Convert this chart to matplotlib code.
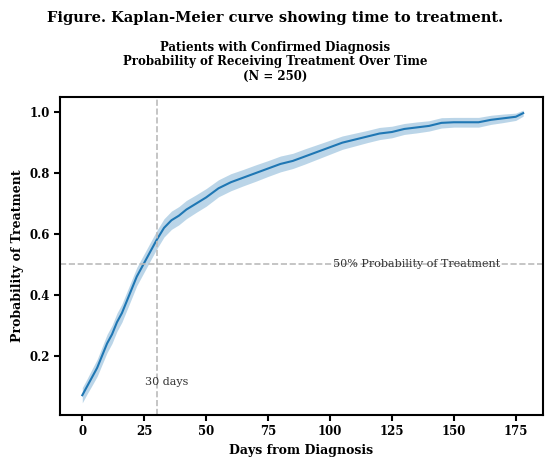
import numpy as np
import matplotlib
matplotlib.use('Agg')
import matplotlib.pyplot as plt

# Data (Kaplan-Meier cumulative probability of treatment)
days = [0, 2, 4, 6, 8, 10, 12, 14, 16, 18, 20, 22, 24, 26, 28, 30, 33, 36, 39, 42,
        46, 50, 55, 60, 65, 70, 75, 80, 85, 90, 95, 100, 105, 110, 115, 120, 125,
        130, 135, 140, 145, 150, 155, 160, 165, 170, 175, 178]
prob = [0.07, 0.10, 0.13, 0.16, 0.20, 0.24, 0.27, 0.31, 0.34, 0.38, 0.42, 0.46,
        0.49, 0.52, 0.55, 0.58, 0.62, 0.645, 0.66, 0.68, 0.70, 0.72, 0.75, 0.77,
        0.785, 0.80, 0.815, 0.83, 0.84, 0.855, 0.87, 0.885, 0.90, 0.91, 0.92,
        0.93, 0.935, 0.945, 0.95, 0.955, 0.965, 0.967, 0.967, 0.967, 0.975,
        0.98, 0.985, 0.997]
ci_half = [0.025, 0.025, 0.027, 0.028, 0.029, 0.03, 0.03, 0.03, 0.03, 0.03, 0.03,
           0.03, 0.03, 0.03, 0.03, 0.03, 0.03, 0.03, 0.03, 0.03, 0.029, 0.029,
           0.028, 0.028, 0.027, 0.027, 0.026, 0.026, 0.025, 0.025, 0.024, 0.023,
           0.022, 0.021, 0.02, 0.02, 0.019, 0.018, 0.018, 0.017, 0.017, 0.016,
           0.016, 0.016, 0.015, 0.014, 0.012, 0.01]

x_ticks = [0, 25, 50, 75, 100, 125, 150, 175]
y_ticks = [0.2, 0.4, 0.6, 0.8, 1.0]

days = np.array(days)
prob = np.array(prob)
ci_half = np.array(ci_half)

plt.rcParams['font.family'] = 'DejaVu Serif'

fig = plt.figure(figsize=(5.51, 4.57), dpi=100)
ax = fig.add_axes([60 / 551, 42 / 457, 483 / 551, 318 / 457])

ax.fill_between(days, prob - ci_half, prob + ci_half,
                color='#1f77b4', alpha=0.3, linewidth=0)
ax.plot(days, prob, color='#1f77b4', linewidth=1.5)

ax.axvline(30, color='#bbbbbb', linestyle='--', linewidth=1.2)
ax.axhline(0.5, color='#bbbbbb', linestyle='--', linewidth=1.2)
ax.text(34, 0.115, '30 days', ha='center', va='center', fontsize=8, color='#333333')
ax.text(135, 0.5, '50% Probability of Treatment', ha='center', va='center',
        fontsize=8, color='#333333')

ax.set_xticks(x_ticks)
ax.set_yticks(y_ticks)
ax.set_xlim(-9, 186)
ax.set_ylim(0.005, 1.05)
for lab in ax.get_xticklabels() + ax.get_yticklabels():
    lab.set_fontweight('bold')
    lab.set_fontsize(8.5)
for s in ax.spines.values():
    s.set_linewidth(1.5)
    s.set_color('black')
ax.tick_params(width=1.5, length=4)

ax.set_xlabel('Days from Diagnosis', fontsize=9, fontweight='bold')
ax.set_ylabel('Probability of Treatment', fontsize=9, fontweight='bold')

fig.text(0.5, 1 - 18 / 457, 'Figure. Kaplan-Meier curve showing time to treatment.',
         ha='center', va='center', fontsize=10.5, fontweight='bold')
fig.text(0.5, 1 - 62 / 457,
         'Patients with Confirmed Diagnosis\nProbability of Receiving Treatment Over Time\n(N = 250)',
         ha='center', va='center', fontsize=8.5, fontweight='bold', linespacing=1.1)

fig.savefig('out.png', dpi=100)
